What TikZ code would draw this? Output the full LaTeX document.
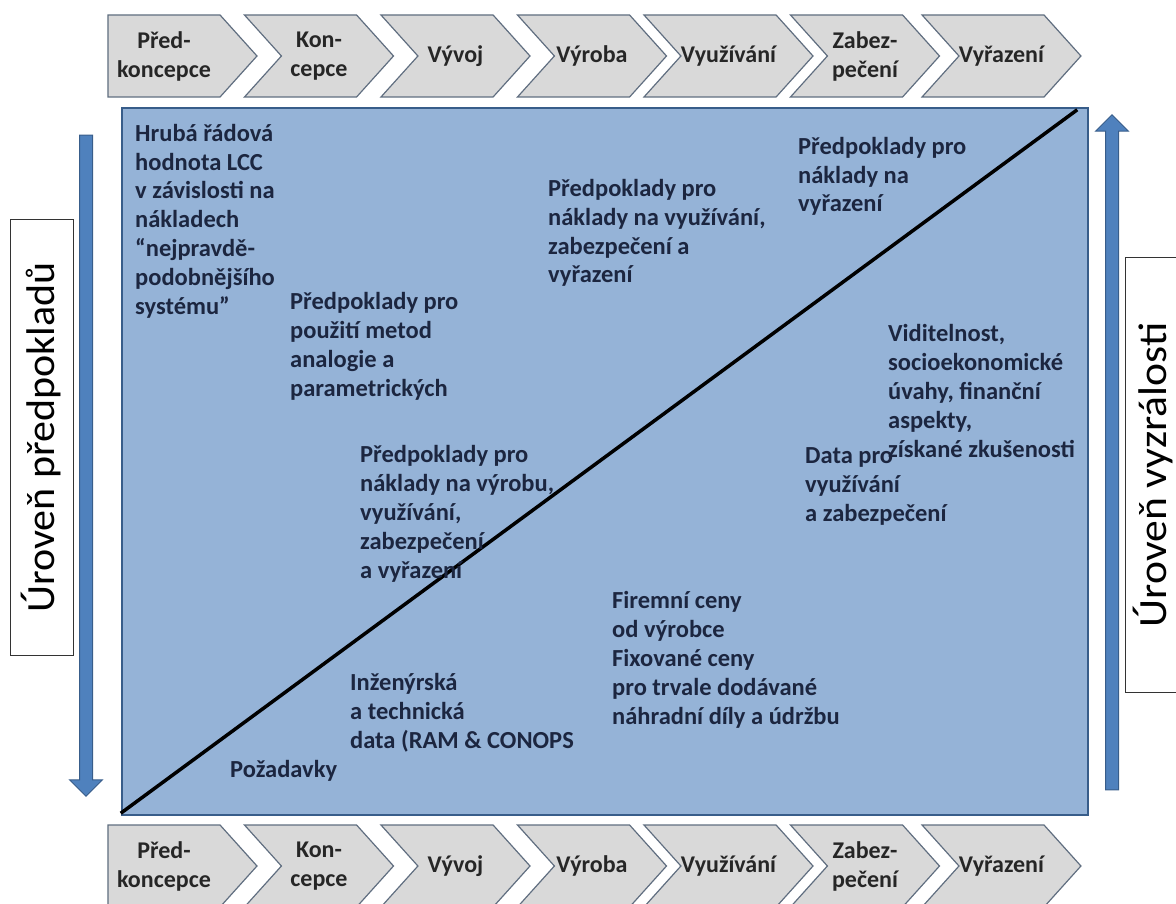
\documentclass[tikz,border=0pt]{standalone}
\usepackage{fontspec}
\setmainfont{Carlito}
\usetikzlibrary{shapes.symbols, shapes.arrows, positioning}
\definecolor{boxfill}{RGB}{149,179,215}
\definecolor{boxline}{RGB}{56,93,138}
\definecolor{arrowfill}{RGB}{79,129,189}
\definecolor{chevfill}{RGB}{217,217,217}
\definecolor{chevline}{RGB}{96,110,128}
\definecolor{notetext}{RGB}{28,38,64}
\tikzset{
  chevfirst/.style={signal, signal to=east, signal pointer angle=96,
    minimum width=149pt, minimum height=82pt, inner sep=0pt,
    fill=chevfill, draw=chevline, line width=1.2pt,
    font=\fontsize{24}{29}\selectfont\bfseries, text=black!85, align=center},
  chevbox/.style={chevfirst, signal from=west},
  notetxt/.style={anchor=base west, inner sep=0pt, align=left,
    font=\fontsize{24.5}{28.8}\selectfont\bfseries, text=notetext},
  levelbox/.style={rectangle, draw=black!80, line width=1pt, fill=white,
    font=\fontsize{40}{44}\selectfont, inner sep=0pt},
  levelarrow/.style={single arrow, single arrow head extend=10pt,
    single arrow tip angle=90, fill=arrowfill, draw=boxline, line width=1pt,
    inner xsep=0pt, inner ysep=6pt}
}

\begin{document}
\begin{tikzpicture}[x=1pt, y=-1pt]
  \useasboundingbox (0,0) rectangle (1176,904);
  % phases on top
  \node[chevfirst] (t1) at (164,56)   {Před-\\koncepce};
  \node[chevbox]   (t2) at (319,56)   {Kon-\\cepce};
  \node[chevbox]   (t3) at (455.5,56) {Vývoj};
  \node[chevbox]   (t4) at (592,56)   {Výroba};
  \node[chevbox]   (t5) at (728.5,56) {Využívání};
  \node[chevbox]   (t6) at (865,56)   {Zabez-\\pečení};
  \node[chevbox]   (t7) at (1001.5,56) {Vyřazení};
  % phases at the bottom
  \node[chevfirst] (b1) at (t1 |- 0,866) {Před-\\koncepce};
  \node[chevbox]   (b2) at (t2 |- 0,866) {Kon-\\cepce};
  \node[chevbox]   (b3) at (t3 |- 0,866) {Vývoj};
  \node[chevbox]   (b4) at (t4 |- 0,866) {Výroba};
  \node[chevbox]   (b5) at (t5 |- 0,866) {Využívání};
  \node[chevbox]   (b6) at (t6 |- 0,866) {Zabez-\\pečení};
  \node[chevbox]   (b7) at (t7 |- 0,866) {Vyřazení};
  % main field
  \node[draw=boxline, line width=2.5pt, fill=boxfill, minimum width=966pt,
        minimum height=707pt] (field) at (605,461.5) {};
  \draw[line width=3.5pt] ([yshift=3pt]field.south west) -- ([xshift=-12pt,yshift=-3pt]field.north east);
  % level arrows
  \node[levelarrow, rotate=-90, minimum height=661pt] (down) at (86,462.5) {};
  \node[levelarrow, rotate=90,  minimum height=675pt] (up)   at (1112,455.5) {};
  \node[levelbox, rotate=90, minimum width=435pt, minimum height=63pt] (lvlleft)
        at (41.5,437.5) {\scalebox{1.05}[1]{Úroveň předpokladů}};
  \node[levelbox, rotate=90, minimum width=434pt, minimum height=56pt] (lvlright)
        at (1153,475) {\scalebox{1.09}[1]{Úroveň vyzrálosti}};
  % notes in the field
  \node[notetxt] (rough) at (135,314) {Hrubá řádová\\hodnota LCC\\v závislosti na\\nákladech\\“nejpravdě-\\podobnějšího\\systému”};
  \node[notetxt] (analog) at (290,396) {Předpoklady pro\\použití metod\\analogie a\\parametrických};
  \node[notetxt] (prod) at (360,578) {Předpoklady pro\\náklady na výrobu,\\využívání,\\zabezpečení\\a vyřazení};
  \node[notetxt] (eng) at (350,748) {Inženýrská\\a technická\\data (RAM \& CONOPS};
  \node[notetxt] (req) at (230,777) {Požadavky};
  \node[notetxt] (use) at (548,283) {Předpoklady pro\\náklady na využívání,\\zabezpečení a\\vyřazení};
  \node[notetxt] (disp) at (798,212) {Předpoklady pro\\náklady na\\vyřazení};
  \node[notetxt] (vis) at (888,457) {Viditelnost,\\socioekonomické\\úvahy, finanční\\aspekty,\\získané zkušenosti};
  \node[notetxt] (data) at (805,521) {Data pro\\využívání\\a zabezpečení};
  \node[notetxt] (price) at (612,724) {Firemní ceny\\od výrobce\\Fixované ceny\\pro trvale dodávané\\náhradní díly a údržbu};
\end{tikzpicture}
\end{document}
